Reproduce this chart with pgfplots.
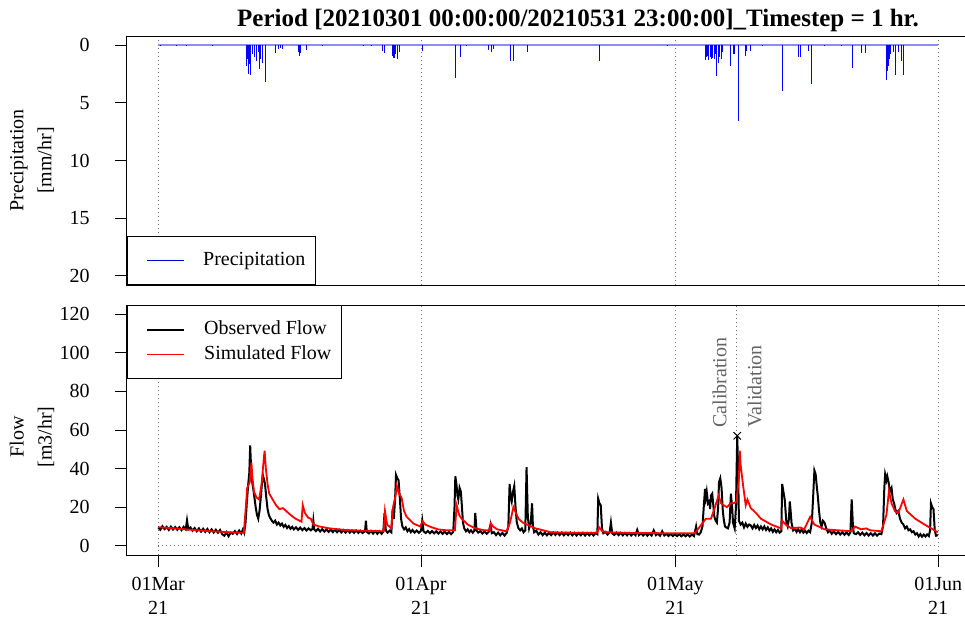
\documentclass[border=0pt]{standalone}
\usepackage{fontspec}
\setmainfont{Liberation Serif}
\usepackage{pgfplots}
\pgfplotsset{compat=1.18}
\definecolor{gridgray}{RGB}{110,110,110}
\definecolor{txtgray}{RGB}{100,100,100}
\begin{document}
\begin{tikzpicture}
\pgfplotsset{
  common/.style={
    scale only axis, width=421pt, xmin=-3.68, xmax=95.64,
    axis line style={line width=0.5pt},
    tick align=outside, major tick length=6pt,
    tick style={black, line width=0.5pt},
    /pgf/number format/assume math mode=true,
    ticklabel style={font=\fontsize{10}{12}\selectfont},
    yticklabel style={xshift=-9.2pt},
    xticklabel style={yshift=-1.5pt},
    ytick pos=left, xtick pos=bottom,
    grid style={gridgray, line width=0.5pt, dash pattern=on 0.5pt off 1.5pt},
    legend image code/.code={\path (0pt,0pt); \draw[##1] (4.5pt,0pt) -- (23pt,0pt);},
    legend style={draw=black, line width=0.5pt, fill=white, font=\fontsize{10}{12}\selectfont,
      inner xsep=5pt, inner ysep=7.4pt, row sep=3.3pt,
      nodes={inner sep=0pt, text height=7pt, text depth=2.2pt},
      /tikz/every odd column/.style={column sep=9.35pt}},
    legend cell align=left,
  }
}
% ---------------- Precipitation panel ----------------
\begin{axis}[common, at={(63.5pt,-18pt)}, anchor=north west, height=124.5pt,
  ymin=-0.8, ymax=20.8, y dir=reverse, ytick={0,5,10,15,20},
  xtick={0,31,61,92}, xticklabels={}, xtick style={draw=none}, xmajorgrids=true,
  legend style={at={(0,0)}, anchor=south west}]
\addplot[blue!45, line width=1pt, forget plot] coordinates {(0,0) (91.96,0)};
\addplot[ycomb, blue, line width=0.45pt, forget plot] coordinates {
(0.32,0.1)(2.2,0.1)(3.3,0.1)(6.4,0.1)(10.4,1.8)(10.5,1.2)(10.7,2.5)(10.8,1.6)(10.9,2.6)(11.1,0.8)(11.4,1.0)(11.6,1.4)(11.8,0.6)(12.0,2.1)(12.1,1.2)(12.3,1.5)(12.6,3.2)(13.8,0.7)(14.2,0.3)(14.4,0.2)(14.7,0.3)(16.6,0.6)(16.7,0.9)(16.8,0.7)(17.5,0.4)(19.4,0.1)(24.2,0.1)(25.2,0.1)(26.5,0.5)(26.7,0.7)(27.6,0.9)(27.7,1.1)(27.8,0.9)(27.9,1.1)(28.0,0.8)(28.2,1.2)(28.4,0.6)(31.2,0.5)(35.1,2.8)(35.6,1.0)(36.4,0.1)(39.0,0.4)(39.3,0.6)(39.6,0.3)(41.5,1.4)(41.9,1.4)(43.5,0.6)(52.0,1.4)(60.1,0.1)(64.6,1.3)(64.7,1.0)(64.8,0.9)(64.9,1.3)(65.1,1.0)(65.2,0.9)(65.3,1.2)(65.4,1.1)(65.6,1.2)(65.7,0.8)(65.8,1.1)(65.9,2.7)(66.1,1.5)(66.2,1.0)(66.4,1.2)(66.6,0.6)(67.5,1.8)(67.8,0.8)(68.0,0.8)(68.4,6.6)(69.3,0.9)(69.4,0.5)(69.9,0.5)(71.3,0.1)(73.6,4.0)(75.5,1.0)(75.7,1.0)(76.7,0.5)(77.0,3.4)(78.6,0.1)(80.6,0.1)(81.9,2.0)(83.0,0.7)(83.4,0.7)(85.9,3.0)(86.0,2.2)(86.1,1.8)(86.2,1.2)(86.4,0.8)(86.7,0.6)(87.0,2.6)(87.3,0.6)(87.7,1.4)(87.9,2.6)
};
\addlegendimage{color=blue!75!black, line width=0.5pt}
\addlegendentry{Precipitation}
\end{axis}
% ---------------- Flow panel ----------------
\begin{axis}[common, at={(63.5pt,-152.5pt)}, anchor=north west, height=125pt,
  ymin=-4.8, ymax=124.8, ytick={0,20,40,60,80,100,120},
  xtick={0,31,61,92}, xticklabels={{01Mar\\21},{01Apr\\21},{01May\\21},{01Jun\\21}},
  xticklabel style={align=center}, xmajorgrids=true,
  legend style={at={(0,1)}, anchor=north west}]
\draw[gridgray, line width=0.5pt, dash pattern=on 0.5pt off 1.5pt] (axis cs:0,0) -- (axis cs:91.96,0);
\draw[gridgray, line width=0.5pt, dash pattern=on 0.5pt off 1.5pt] (axis cs:68.2,-4.8) -- (axis cs:68.2,124.8);
\addplot[black, line width=1pt] coordinates {
(0,9.5)(0.25,8.3)(0.5,10.1)(0.75,8.6)(1.0,9.8)(1.25,8.2)(1.5,9.9)(1.75,8.4)(2.0,9.7)(2.25,8.3)(2.5,9.6)(2.75,8.1)(3.0,9.8)(3.25,8.5)(3.4,13.2)(3.55,8.6)(3.8,9.5)(4.05,7.8)(4.3,9.2)(4.55,7.5)(4.8,9.0)(5.05,7.3)(5.3,8.8)(5.55,7.2)(5.8,8.7)(6.05,7.0)(6.3,8.5)(6.55,6.9)(6.8,8.3)(7.05,6.8)(7.3,8.2)(7.55,6.0)(7.8,5.2)(8.05,7.0)(8.3,4.9)(8.55,6.8)(8.8,6.2)(9.05,7.6)(9.3,6.1)(9.55,7.9)(9.8,6.3)(10.0,8.5)(10.15,6.8)
(10.3,12)(10.45,22)(10.6,31)(10.75,38)(10.85,52)(10.95,41)(11.05,34)(11.2,30)(11.35,25)(11.5,20)(11.65,16)(11.8,14)(11.95,18)(12.1,25)(12.25,33)(12.35,36.5)(12.5,34)(12.6,32)(12.75,25)(12.9,19)(13.05,16)(13.2,14.5)(13.4,13)(13.6,12)(13.8,13)(14.0,11)(14.2,12)(14.4,10.5)(14.6,11.5)(14.8,9.8)(15.0,10.8)(15.2,9.2)(15.4,10.2)(15.6,8.8)(15.8,9.8)(16.0,8.5)(16.25,9.6)(16.5,8.2)(16.75,9.4)(17.0,8.1)(17.25,9.2)(17.5,7.9)(17.75,9.0)(18.0,8.0)(18.2,8.8)(18.3,13)(18.4,8.5)(18.6,7.6)(18.85,8.8)(19.1,7.4)(19.35,8.6)(19.6,7.3)(19.85,8.5)(20.1,7.2)(20.35,8.4)(20.6,7.1)(20.85,8.3)(21.1,7.0)(21.35,8.2)(21.6,6.9)(21.85,8.1)(22.1,6.8)(22.35,8.0)(22.6,6.8)(22.85,7.9)(23.1,6.7)(23.35,7.9)(23.6,6.7)(23.85,7.8)(24.1,6.6)(24.4,7.6)(24.5,13)(24.6,7.2)(24.85,6.4)(25.1,7.7)(25.35,6.3)(25.6,7.6)(25.85,6.2)(26.1,7.5)(26.35,6.2)(26.55,7.4)(26.7,17)(26.85,8)(27.05,6.8)(27.3,7.8)(27.5,7)(27.65,19)(27.8,14)(27.95,25)(28.05,36.7)(28.2,35)(28.35,34)(28.5,25)(28.65,14)(28.8,10)(29.0,8.5)(29.2,9.5)(29.4,7.5)(29.6,8.6)(29.8,7.0)(30.0,8.2)(30.25,6.8)(30.5,7.9)(30.75,6.7)(31.0,7.8)(31.15,13)(31.3,7.5)(31.55,6.6)(31.8,7.7)(32.05,6.5)(32.3,7.6)(32.55,6.4)(32.8,7.5)(33.05,6.3)(33.3,7.4)(33.55,6.2)(33.8,7.3)(34.05,6.1)(34.3,7.2)(34.55,6.0)(34.8,7.2)(34.95,20)(35.05,36)(35.2,31)(35.3,26)(35.4,24)(35.55,30)(35.7,28)(35.8,22)(35.95,12)(36.1,9)(36.3,7.5)(36.5,8.5)(36.7,7)(36.9,8)(37.1,6.8)(37.3,7.8)(37.4,17)(37.55,8)(37.75,6.8)(38.0,7.6)(38.25,6.3)(38.5,7.4)(38.75,6.2)(39.0,7.3)(39.2,11)(39.35,6.5)(39.6,7.0)(39.85,5.5)(40.1,6.8)(40.35,5.4)(40.6,6.7)(40.85,5.3)(41.1,6.6)(41.3,10)(41.45,32)(41.6,25)(41.7,23)(41.85,28)(42.0,31)(42.15,20)(42.3,12)(42.5,9)(42.7,8)(42.9,9)(43.1,7)(43.3,8)(43.45,40.7)(43.6,15)(43.75,9)(43.95,12)(44.1,22)(44.2,10)(44.35,7)(44.6,7.8)(44.85,5.8)(45.1,7.0)(45.35,5.5)(45.6,6.8)(45.85,5.4)(46.1,6.7)(46.35,5.5)(46.6,6.9)(46.85,5.6)(47.1,6.8)(47.35,5.5)(47.6,6.8)(47.85,5.4)(48.1,6.7)(48.35,5.5)(48.6,6.8)(48.85,5.4)(49.1,6.7)(49.35,5.3)(49.6,6.6)(49.85,5.4)(50.1,6.7)(50.35,5.3)(50.6,6.6)(50.85,5.4)(51.1,6.6)(51.35,5.3)(51.6,6.6)(51.8,6.0)(51.9,24.4)(52.05,22)(52.2,21)(52.35,9)(52.5,6.5)(52.75,7.2)(53.0,5.8)(53.25,7.0)(53.4,12)(53.55,6.5)(53.8,5.6)(54.05,6.8)(54.3,5.5)(54.55,6.7)(54.8,5.4)(55.05,6.6)(55.3,5.4)(55.55,6.6)(55.8,5.3)(56.05,6.5)(56.3,5.4)(56.5,8.2)(56.7,5.5)(56.95,6.5)(57.2,5.3)(57.45,6.4)(57.7,5.2)(57.95,6.4)(58.2,5.3)(58.45,8.0)(58.7,5.5)(58.95,6.3)(59.2,5.2)(59.45,7.5)(59.7,5.3)(59.95,6.2)(60.2,5.1)(60.45,6.1)(60.7,5.0)(60.95,6.0)(61.2,5.0)(61.45,6.0)(61.7,4.9)(61.95,5.9)(62.2,4.9)(62.45,5.9)(62.7,4.8)(62.95,5.8)(63.2,5.0)(63.45,10)(63.6,6.0)(63.8,5.8)(64.0,7)(64.2,10)(64.35,20)(64.5,29.5)(64.6,25)(64.7,28)(64.85,22)(65.0,23)(65.1,19)(65.2,26)(65.35,27)(65.5,20)(65.6,15)(65.75,13)(65.9,12)(66.05,20)(66.15,33)(66.3,35)(66.45,30)(66.6,18)(66.7,14)(66.85,10)(67.0,9.5)(67.2,9)(67.4,12)(67.55,27)(67.7,20)(67.8,12)(68.0,9)(68.15,20)(68.25,45)(68.3,57)(68.4,40)(68.5,13)(68.7,11)(68.9,12)(69.1,9.5)(69.3,11.5)(69.5,9.8)(69.7,11)(69.9,10.5)(70.1,9)(70.3,10.8)(70.5,9.2)(70.7,10.5)(70.9,8.5)(71.1,10)(71.3,8.5)(71.5,10)(71.7,8.2)(71.9,9.5)(72.1,7.8)(72.3,9)(72.5,7.2)(72.7,8.5)(72.9,7.0)(73.1,8.2)(73.3,6.8)(73.5,7.5)(73.6,32)(73.75,28)(73.9,24)(74.0,18)(74.1,12)(74.25,10)(74.4,14)(74.5,23)(74.6,18)(74.7,12)(74.9,8)(75.1,9)(75.3,7.2)(75.5,8.5)(75.7,7.0)(75.9,8.5)(76.1,6.8)(76.3,7.8)(76.5,6.6)(76.7,7.8)(76.9,7.0)(77.1,12)(77.25,25)(77.4,39)(77.55,37)(77.7,30)(77.8,26)(77.95,18)(78.1,12)(78.25,10)(78.4,13)(78.6,12)(78.8,9)(79.0,7)(79.2,8)(79.45,6.2)(79.7,7.4)(79.95,6.0)(80.2,7.2)(80.45,5.8)(80.7,7.0)(80.95,5.7)(81.2,6.9)(81.45,5.6)(81.65,7.0)(81.8,24)(81.95,10)(82.05,6.5)(82.3,6.0)(82.55,7.0)(82.8,5.6)(83.05,6.8)(83.3,5.4)(83.55,6.6)(83.8,5.3)(84.05,6.5)(84.3,5.3)(84.55,6.4)(84.8,5.2)(85.05,6.3)(85.3,6.0)(85.5,10)(85.65,30)(85.75,37)(85.9,34)(86.0,36)(86.15,33)(86.3,28)(86.5,30)(86.65,24)(86.8,22)(86.95,19)(87.1,17)(87.3,18)(87.5,14)(87.7,12)(87.9,11)(88.1,9)(88.3,10)(88.5,8)(88.7,8.5)(88.9,7)(89.1,7.5)(89.3,5.8)(89.5,6.5)(89.7,4.8)(89.9,6.0)(90.1,4.7)(90.3,5.8)(90.5,4.8)(90.7,5.9)(90.9,5.0)(91.05,8)(91.15,22)(91.3,20)(91.45,19)(91.6,8)(91.75,5.2)(91.96,5.5)
};
\addlegendentry{Observed Flow}
\addplot[red, line width=0.9pt] coordinates {
(0,9.6)(2,9.0)(4,8.2)(6,7.6)(8,7.1)(10.1,6.7)(10.3,18)(10.5,30)(10.8,33)(11.0,43)(11.1,36)(11.3,28)(11.6,25)(11.9,24)(12.2,32)(12.45,45)(12.55,49.3)(12.7,40)(12.9,32)(13.1,27)(13.5,24)(13.9,21)(14.3,19)(14.7,19.5)(15.1,18)(15.6,16)(16.2,14)(16.9,12.5)(17.05,21)(17.3,17)(17.7,14.5)(18.0,14)(18.3,11)(19,10)(20.2,9)(22,8.2)(24,7.8)(26,7.6)(26.6,7.5)(26.75,18)(27.0,11)(27.5,9)(27.7,20)(28.0,26)(28.15,31)(28.4,27)(28.7,25)(29.0,18)(29.3,15)(30.1,11.5)(30.9,10)(31.2,12.7)(31.5,11)(32,10)(33,8.5)(34,8)(35.0,8)(35.2,21)(35.5,16)(35.8,14)(36.5,11)(37.4,9)(38.5,8)(39.1,8)(39.25,11.5)(39.5,10)(40,8.5)(41.1,7.5)(41.5,12)(41.9,20)(42.1,18)(42.5,14)(43.0,12)(43.5,11)(44.5,9)(46.3,7)(48,6.8)(51.8,6.7)(52.0,9.6)(52.4,7.5)(53,7)(56,6.6)(60,6.5)(63.3,6.5)(64.6,14)(65.2,14)(65.6,19)(66.1,26)(66.4,22)(66.7,21)(67.1,20)(67.5,22)(67.9,22)(68.2,23)(68.5,35)(68.6,49.3)(68.7,42)(69.0,31)(69.3,21)(69.5,24)(69.9,19.5)(70.5,17)(71.1,14)(72.3,11)(73.5,9)(73.6,13)(74.0,11)(74.7,9)(75.7,9.5)(76.2,8.5)(76.9,15)(77.4,11)(78.6,8.5)(80.2,8)(81.8,7.5)(82.2,10)(82.9,8.5)(83.5,9)(84,8)(85.3,7.5)(85.9,16)(86.2,28.6)(86.5,22)(86.9,18)(87.3,17)(87.9,24)(88.3,18)(89.3,14)(90.4,11)(91.96,7)
};
\addlegendentry{Simulated Flow}
\addplot[only marks, mark=x, mark size=2.6pt, black, mark options={line width=0.5pt}, forget plot] coordinates {(68.3,57)};
\node[rotate=90, anchor=base west, text=txtgray, font=\fontsize{10}{12}\selectfont, inner sep=0pt] at ([xshift=-5pt]axis cs:68.2,61) {Calibration};
\node[rotate=90, anchor=base west, text=txtgray, font=\fontsize{10}{12}\selectfont, inner sep=0pt] at ([xshift=12.5pt]axis cs:68.2,61) {Validation};
\end{axis}
% titles and axis labels
\node[anchor=base, font=\bfseries\fontsize{12.5}{15}\selectfont, inner sep=0pt] at (289pt,-13pt) {Period [20210301 00:00:00/20210531 23:00:00]\_Timestep = 1 hr.};
\node[rotate=90, align=center, font=\fontsize{10}{14}\selectfont] at (16pt,-80.25pt) {Precipitation\\{[mm/hr]}};
\node[rotate=90, align=center, font=\fontsize{10}{14}\selectfont] at (16pt,-218.5pt) {Flow\\{[m3/hr]}};
\pgfresetboundingbox
\useasboundingbox (0pt,0pt) rectangle (482.5pt,-311pt);
\end{tikzpicture}
\end{document}
